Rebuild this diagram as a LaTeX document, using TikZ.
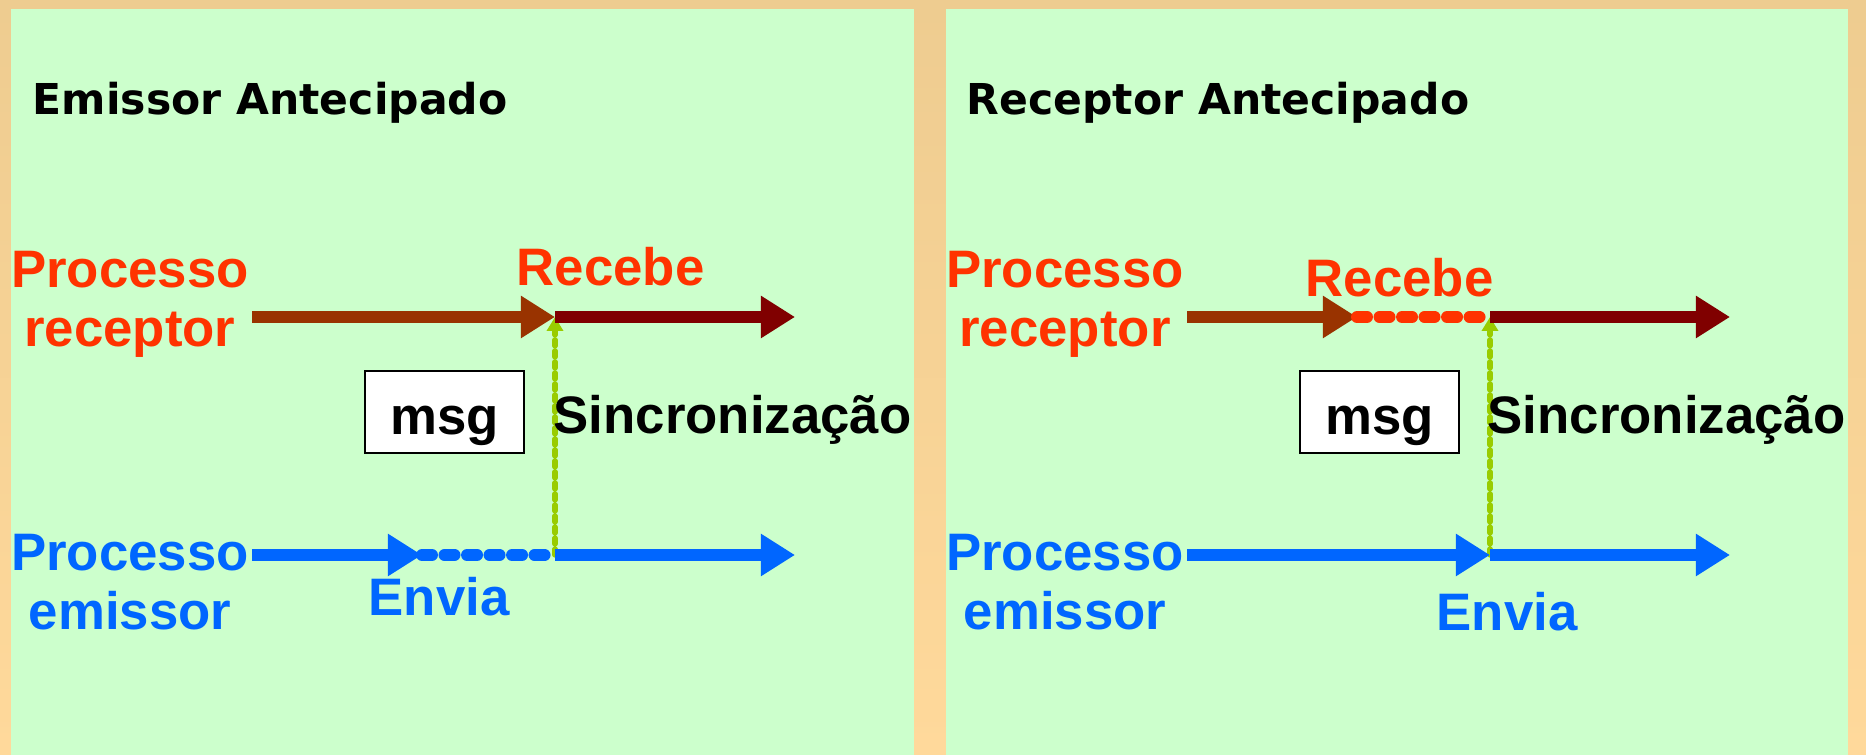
\documentclass[tikz,border=0pt]{standalone}
\usepackage{fontspec}
\setmainfont{Liberation Sans}
\newfontfamily\headfont{DejaVu Sans}
\usetikzlibrary{arrows.meta}
\definecolor{panelgreen}{HTML}{CCFFCC}
\definecolor{frametop}{HTML}{EECC90}
\definecolor{framebot}{HTML}{FFD99B}
\definecolor{recvred}{HTML}{FF3300}
\definecolor{recvbrown}{HTML}{993300}
\definecolor{recvdark}{HTML}{800000}
\definecolor{sendblue}{HTML}{0066FF}
\definecolor{syncgreen}{HTML}{99CC00}
\tikzset{
  panel/.style={fill=panelgreen, draw=none},
  headlabel/.style={anchor=base west, inner sep=0pt,
    font=\headfont\bfseries\fontsize{12.1}{14}\selectfont},
  proclabel/.style={anchor=north, align=center, inner sep=0pt,
    font=\bfseries\fontsize{15}{16.6}\selectfont},
  eventlabel/.style={anchor=base west, inner sep=0pt,
    font=\bfseries\fontsize{15}{16.6}\selectfont},
  msgbox/.style={draw, line width=0.6pt, fill=white, inner sep=0pt,
    minimum width=1.59cm, minimum height=0.82cm,
    text height=0.44cm, text depth=0pt,
    font=\bfseries\fontsize{15}{16.6}\selectfont},
  timeline/.style={line width=3.4pt, -{Triangle[length=0.34cm, width=0.40cm]}},
  waitline/.style={line width=3.4pt, line cap=round, dash pattern=on 0.10cm off 0.125cm},
  syncline/.style={syncgreen, line width=1.5pt, line cap=round,
    dash pattern=on 0.06cm off 0.05cm, -{Triangle[length=0.14cm, width=0.16cm]}}
}

\begin{document}
\begin{tikzpicture}[x=0.01cm, y=0.01cm]
% frame and the two panels
\shade[top color=frametop, bottom color=framebot] (0,0) rectangle (1866,755);
\useasboundingbox (0,0) rectangle (1866,755);
\fill[panel] (11,0) rectangle (914,746);
\fill[panel] (946,0) rectangle (1848,746);

% --- sender blocks first ---
\node[headlabel] (head1) at (32,640) {Emissor Antecipado};
\node[proclabel, recvred] (recv1) at (130,504) {Processo\\receptor};
\node[proclabel, sendblue] (send1) at (130,221) {Processo\\emissor};

\coordinate (rs1) at (252,438);
\coordinate (rm1) at (555,438);
\coordinate (re1) at (795,438);
\coordinate (ss1) at (252,200);
\coordinate (sw1) at (422,200);
\coordinate (sm1) at (555,200);
\coordinate (se1) at (795,200);

\draw[syncline] (sm1) -- (rm1);
\draw[timeline, recvbrown] (rs1) -- (rm1);
\draw[timeline, recvdark] (rm1) -- (re1);
\draw[timeline, sendblue] (ss1) -- (sw1);
\draw[waitline, sendblue] (sw1) -- (sm1);
\draw[timeline, sendblue] (sm1) -- (se1);

\node[eventlabel, recvred] (recebe1) at (516,469) {Recebe};
\node[msgbox] (msg1) at (444.5,343) {msg};
\node[eventlabel] (sync1) at (553,321) {Sincronização};
\node[eventlabel, sendblue] (envia1) at (368,139) {Envia};

% --- receiver blocks first ---
\node[headlabel] (head2) at (966,640) {Receptor Antecipado};
\node[proclabel, recvred] (recv2) at (1065,504) {Processo\\receptor};
\node[proclabel, sendblue] (send2) at (1065,221) {Processo\\emissor};

\coordinate (rs2) at (1187,438);
\coordinate (rw2) at (1357,438);
\coordinate (rm2) at (1490,438);
\coordinate (re2) at (1730,438);
\coordinate (ss2) at (1187,200);
\coordinate (sm2) at (1490,200);
\coordinate (se2) at (1730,200);

\draw[syncline] (sm2) -- (rm2);
\draw[timeline, recvbrown] (rs2) -- (rw2);
\draw[waitline, recvred] (rw2) -- (rm2);
\draw[timeline, recvdark] (rm2) -- (re2);
\draw[timeline, sendblue] (ss2) -- (sm2);
\draw[timeline, sendblue] (sm2) -- (se2);

\node[eventlabel, recvred] (recebe2) at (1305,458) {Recebe};
\node[msgbox] (msg2) at (1379.5,343) {msg};
\node[eventlabel] (sync2) at (1487,321) {Sincronização};
\node[eventlabel, sendblue] (envia2) at (1436,124) {Envia};
\end{tikzpicture}
\end{document}
